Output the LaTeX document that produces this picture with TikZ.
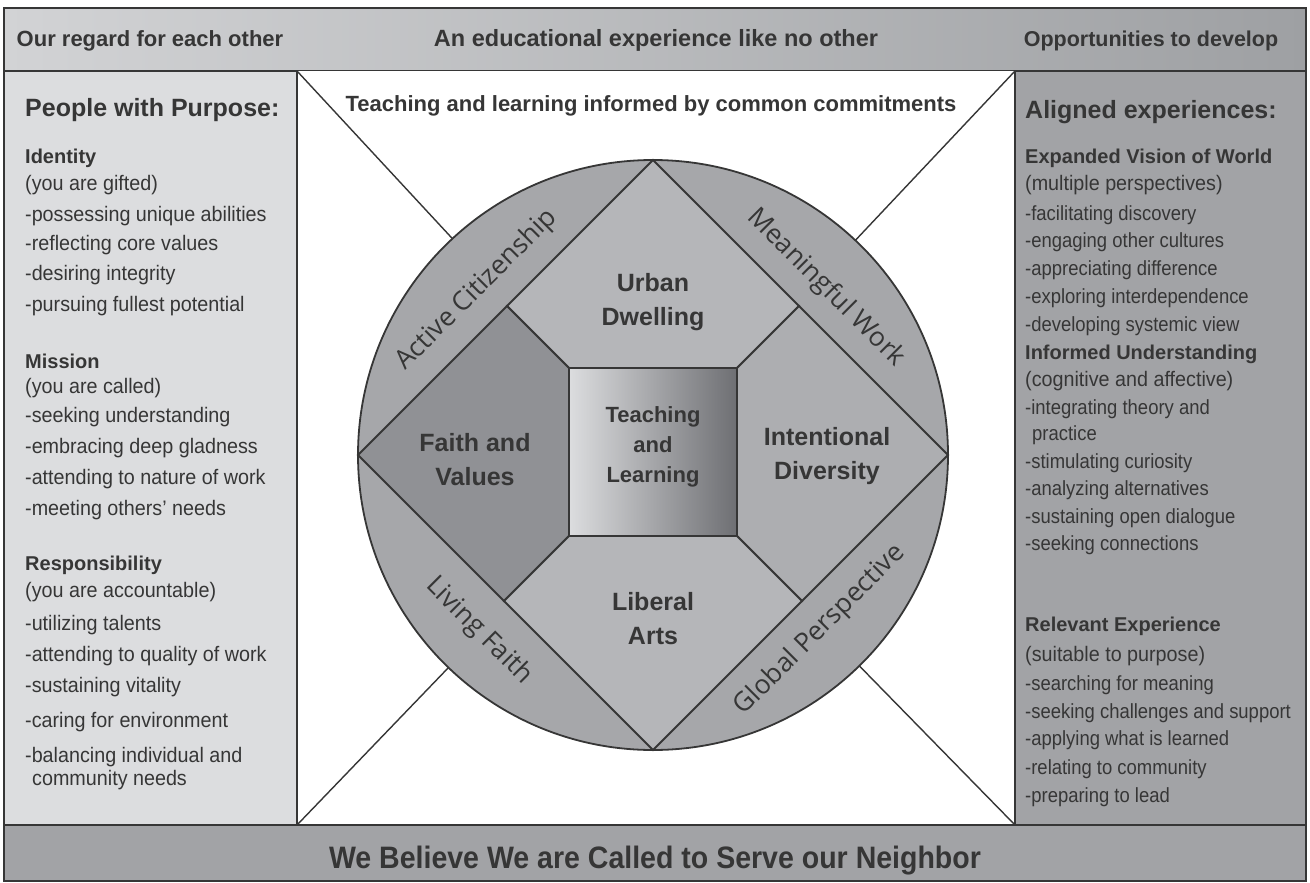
\documentclass[tikz,border=0pt]{standalone}
\usepackage{fontspec}
\newfontfamily\condf{Liberation Sans}[FakeStretch=0.94]
\newfontfamily\rcondf{Liberation Sans}[FakeStretch=0.9]
\newfontfamily\bcondf{Liberation Sans}
\newfontfamily\bnarf{Liberation Sans}[FakeStretch=0.92]
\newfontfamily\ringf{Open Sans}
\definecolor{ink}{HTML}{363636}
\definecolor{lpanel}{HTML}{DCDDDF}
\definecolor{rpanel}{HTML}{A2A3A6}
\definecolor{hdl}{HTML}{D2D3D5}
\definecolor{hdr}{HTML}{9EA0A3}
\definecolor{ringc}{HTML}{A6A7AA}
\definecolor{topc}{HTML}{B5B6B9}
\definecolor{leftc}{HTML}{909195}
\definecolor{rightc}{HTML}{ADAEB1}
\definecolor{sql}{HTML}{DCDDDF}
\definecolor{sqr}{HTML}{6E6F73}
\begin{document}
\begin{tikzpicture}[x=1pt,y=-1pt,
  frame/.style={draw=ink,line width=2pt},
  edge/.style={draw=ink,line width=1.8pt,line join=miter},
  diag/.style={draw=ink,line width=1.4pt},
  item/.style={anchor=base west,inner sep=0pt,text=ink,font=\condf\fontsize{21}{25}\selectfont},
  ritem/.style={anchor=base west,inner sep=0pt,text=ink,font=\rcondf\fontsize{20.5}{25}\selectfont},
  sub/.style={anchor=base west,inner sep=0pt,text=ink,font=\bcondf\bfseries\fontsize{20}{25}\selectfont},
  big/.style={anchor=base west,inner sep=0pt,text=ink,font=\bcondf\bfseries\fontsize{25}{30}\selectfont},
  hdr/.style={anchor=base,inner sep=0pt,text=ink,font=\bcondf\bfseries\fontsize{22}{26}\selectfont},
  lab/.style={align=center,inner sep=0pt,text=ink,font=\bcondf\bfseries\fontsize{25}{34}\selectfont},
  ring/.style={inner sep=0pt,text=ink,font=\ringf\fontsize{26.5}{30}\selectfont}]
\useasboundingbox (0,0) rectangle (1310,883);
% header
\shade[left color=hdl,right color=hdr] (4,8) rectangle (1306,71);
\draw[frame] (4,8) rectangle (1306,71);
% panels
\fill[lpanel] (4,71) rectangle (297,825);
\fill[rpanel] (1015,71) rectangle (1306,825);
\fill[white] (297,71) rectangle (1015,825);
\fill[rpanel] (4,825) rectangle (1306,881);
\draw[frame] (4,71) rectangle (297,825);
\draw[frame] (1015,71) rectangle (1306,825);
\draw[frame] (4,825) rectangle (1306,881);
% coordinates
\coordinate (C) at (653,455);
\coordinate (cTL) at (297,71);
\coordinate (cTR) at (1015,71);
\coordinate (cBL) at (297,825);
\coordinate (cBR) at (1015,825);
\coordinate (T) at (653,160);
\coordinate (L) at (358,455);
\coordinate (R) at (948,455);
\coordinate (B) at (653,750);
\coordinate (s1) at (569,368);
\coordinate (s2) at (737,368);
\coordinate (s3) at (737,536);
\coordinate (s4) at (569,536);
\coordinate (e1) at (507,306);
\coordinate (e2) at (799,306);
\coordinate (e3) at (802,601);
\coordinate (e4) at (504,601);
% diagonals
\draw[diag] (cTL) -- (C);
\draw[diag] (cTR) -- (C);
\draw[diag] (cBL) -- (C);
\draw[diag] (cBR) -- (C);
% circle
\draw[edge,fill=ringc] (C) circle[radius=295];
% regions
\draw[edge,fill=topc] (e1) -- (T) -- (e2) -- (s2) -- (s1) -- cycle;
\draw[edge,fill=leftc] (e1) -- (L) -- (e4) -- (s4) -- (s1) -- cycle;
\draw[edge,fill=rightc] (e2) -- (R) -- (e3) -- (s3) -- (s2) -- cycle;
\draw[edge,fill=topc] (e4) -- (B) -- (e3) -- (s3) -- (s4) -- cycle;
\shade[left color=sql,right color=sqr] (s1) rectangle (s3);
\draw[edge] (s1) rectangle (s3);
% header texts
\node[hdr] (h1) at (150,47) {Our regard for each other};
\node[hdr,font=\bcondf\bfseries\fontsize{23.5}{26}\selectfont] (h2) at (656,47) {An educational experience like no other};
\node[hdr,font=\bcondf\bfseries\fontsize{21.5}{26}\selectfont] (h3) at (1151,47) {Opportunities to develop};
\node[anchor=base,inner sep=0pt,text=ink,font=\bcondf\bfseries\fontsize{22}{25}\selectfont] (tc) at (651,111) {Teaching and learning informed by common commitments};
\node[anchor=base,inner sep=0pt,text=ink,font=\bnarf\bfseries\fontsize{31}{36}\selectfont] (bot) at (655,868) {We Believe We are Called to Serve our Neighbor};
% center labels
\node[lab] (ud) at (653,302) {Urban\\Dwelling};
\node[lab] (fv) at (475,460) {Faith and\\Values};
\node[lab] (id) at (827,456) {Intentional\\Diversity};
\node[lab] (la) at (653,619) {Liberal\\Arts};
\node[lab,font=\bcondf\bfseries\fontsize{22}{30}\selectfont] (tl) at (653,447) {Teaching\\and\\Learning};
% ring labels
\node[ring,rotate=45] (ac) at (477,290) {Active Citizenship};
\node[ring,rotate=-45] (mw) at (826,288) {Meaningful Work};
\node[ring,rotate=-45] (lf) at (479,631) {Living Faith};
\node[ring,rotate=45] (gp) at (820,630) {Global Perspective};
% left panel
\node[big] (l0) at (25,117) {People with Purpose:};
\node[sub] (l1) at (25,163) {Identity};
\node[item] (l2) at (25,190) {(you are gifted)};
\node[item] (l3) at (25,221) {-possessing unique abilities};
\node[item] (l4) at (25,250) {-reflecting core values};
\node[item] (l5) at (25,280) {-desiring integrity};
\node[item] (l6) at (25,311) {-pursuing fullest potential};
\node[sub] (l7) at (25,368) {Mission};
\node[item] (l8) at (25,393) {(you are called)};
\node[item] (l9) at (25,422) {-seeking understanding};
\node[item] (l10) at (25,453) {-embracing deep gladness};
\node[item] (l11) at (25,484) {-attending to nature of work};
\node[item] (l12) at (25,515) {-meeting others’ needs};
\node[sub] (l13) at (25,570) {Responsibility};
\node[item] (l14) at (25,597) {(you are accountable)};
\node[item] (l15) at (25,630) {-utilizing talents};
\node[item] (l16) at (25,661) {-attending to quality of work};
\node[item] (l17) at (25,692) {-sustaining vitality};
\node[item] (l18) at (25,727) {-caring for environment};
\node[item] (l19) at (25,762) {-balancing individual and};
\node[item] (l20) at (32,785) {community needs};
% right panel
\node[big] (r0) at (1025,118) {Aligned experiences:};
\node[sub] (r1) at (1025,163) {Expanded Vision of World};
\node[item] (r2) at (1025,190) {(multiple perspectives)};
\node[ritem] (r3) at (1025,220) {-facilitating discovery};
\node[ritem] (r4) at (1025,247) {-engaging other cultures};
\node[ritem] (r5) at (1025,275) {-appreciating difference};
\node[ritem] (r6) at (1025,303) {-exploring interdependence};
\node[ritem] (r7) at (1025,331) {-developing systemic view};
\node[sub] (r8) at (1025,359) {Informed Understanding};
\node[item] (r9) at (1025,386) {(cognitive and affective)};
\node[ritem] (r10) at (1025,414) {-integrating theory and};
\node[ritem] (r11) at (1032,440) {practice};
\node[ritem] (r12) at (1025,468) {-stimulating curiosity};
\node[ritem] (r13) at (1025,495) {-analyzing alternatives};
\node[ritem] (r14) at (1025,523) {-sustaining open dialogue};
\node[ritem] (r15) at (1025,550) {-seeking connections};
\node[sub] (r16) at (1025,631) {Relevant Experience};
\node[item] (r17) at (1025,661) {(suitable to purpose)};
\node[ritem] (r18) at (1025,690) {-searching for meaning};
\node[ritem] (r19) at (1025,718) {-seeking challenges and support};
\node[ritem] (r20) at (1025,745) {-applying what is learned};
\node[ritem] (r21) at (1025,774) {-relating to community};
\node[ritem] (r22) at (1025,802) {-preparing to lead};
\end{tikzpicture}
\end{document}
